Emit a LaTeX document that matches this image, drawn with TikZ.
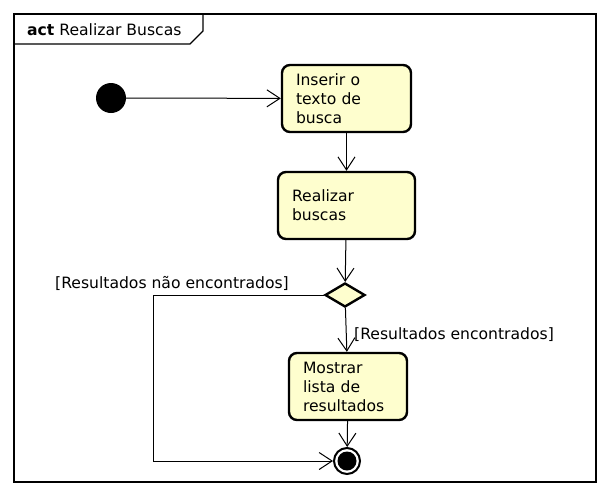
\documentclass[tikz,border=0pt]{standalone}
\usepackage{fontspec}
\setmainfont{DejaVu Sans}
\usetikzlibrary{shapes.geometric,arrows.meta}
\definecolor{actfill}{HTML}{FEFECE}
\begin{document}
\begin{tikzpicture}[x=1pt,y=-1pt,
  every node/.style={font=\fontsize{15.6}{19}\selectfont},
  action/.style={draw=black,fill=actfill,line width=2.4pt,rounded corners=8pt,
    inner xsep=14pt,inner ysep=0pt,align=left,anchor=center},
  decision/.style={diamond,draw=black,fill=actfill,line width=2.4pt,
    minimum width=40pt,minimum height=24pt,inner sep=0pt},
  flow/.style={line width=1pt,-{Straight Barb[length=13pt,width=17pt,line width=1pt]}},
  guard/.style={inner sep=0pt}
]
\useasboundingbox (0,0) rectangle (608,496);
% frame
\draw[line width=1.3pt] (14,14) rectangle (596,482);
\draw[line width=1.3pt] (14,44) -- (190,44) -- (203,31) -- (203,14);
\node[anchor=west,inner sep=0pt] (title) at (27,30) {\textbf{act} Realizar Buscas};
% nodes
\node[circle,fill=black,minimum size=30pt,inner sep=0pt] (start) at (111,98) {};
\node[action,minimum width=129pt,minimum height=67pt,text width=101pt] (a1) at (346.5,98.5) {Inserir o\\texto de\\busca};
\node[action,minimum width=137pt,minimum height=67pt,text width=109pt] (a2) at (346.5,205.5) {Realizar\\buscas};
\node[decision] (d) at (345,295) {};
\node[action,minimum width=118pt,minimum height=67pt,text width=90pt] (a3) at (348,386.5) {Mostrar\\lista de\\resultados};
\node[circle,draw=black,fill=white,line width=2pt,minimum size=26pt,inner sep=0pt] (end) at (347,461) {};
\node[circle,fill=black,minimum size=19pt,inner sep=0pt] (endin) at (end.center) {};
\coordinate (k) at (153,461);
% connectors
\draw[flow] (start) -- (a1);
\draw[flow] (a1) -- (a2);
\draw[flow] (a2) -- (d);
\draw[flow] (d) -- (a3);
\draw[flow] (a3) -- (end);
\draw[flow] (d.west) -| (k) -- (end);
% guards
\node[guard,anchor=east] (g1) at (289,283) {[Resultados não encontrados]};
\node[guard,anchor=west] (g2) at (354,335) {[Resultados encontrados]};
\end{tikzpicture}
\end{document}
